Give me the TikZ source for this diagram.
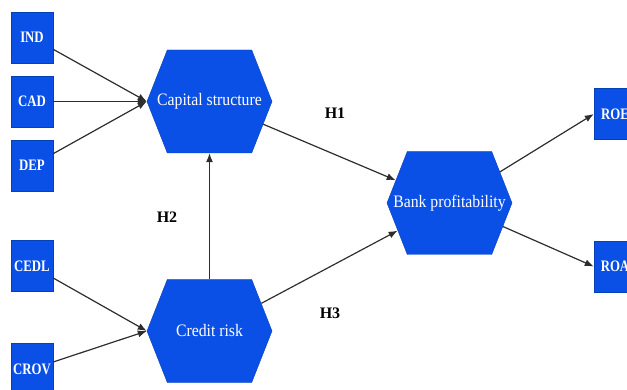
\documentclass[tikz,border=0pt]{standalone}
\usepackage{graphicx}
\usepackage{fontspec}
\setmainfont{Liberation Serif}
\usetikzlibrary{shapes.symbols,arrows.meta}
\definecolor{boxblue}{RGB}{10,80,230}
\definecolor{linegray}{RGB}{45,45,45}
% narrow labels, and labels that leave the hexagon size alone
\newcommand{\narrowlabel}[1]{\scalebox{0.8}[1]{#1}}
\newcommand{\hexlabel}[1]{\makebox[0pt]{\scalebox{0.9}[1]{#1}}}
\tikzset{
  indicator/.style={rectangle, fill=boxblue, draw=boxblue!80!black, line width=0.4pt,
    minimum width=42pt, minimum height=51pt, inner sep=0pt, text=white,
    font=\fontsize{16}{18}\selectfont\bfseries},
  construct/.style={signal, signal to=east and west, signal pointer angle=137,
    fill=boxblue, draw=boxblue!80!black, line width=0.4pt,
    minimum width=125pt, minimum height=103pt, inner sep=0pt, text=white,
    font=\fontsize{17.5}{19}\selectfont},
  link/.style={draw=linegray, line width=1.2pt, -{Latex[length=9pt,width=7pt]}},
  hyp/.style={font=\fontsize{16}{18}\selectfont\bfseries, text=black}
}
\begin{document}
\begin{tikzpicture}[x=1pt,y=-1pt]
  \useasboundingbox (0,0) rectangle (627,390);

  % measurement indicators
  \node[indicator] (ind)  at (32,37.5)  {\narrowlabel{IND}};
  \node[indicator] (cad)  at (32,101.5) {\narrowlabel{CAD}};
  \node[indicator] (dep)  at (32,165.5) {\narrowlabel{DEP}};
  \node[indicator] (cedl) at (32,266)   {\narrowlabel{CEDL}};
  \node[indicator] (crov) at (32,369)   {\narrowlabel{CROV}};
  \node[indicator] (roe)  at (615,114)  {\narrowlabel{ROE}};
  \node[indicator] (roa)  at (615,266.5){\narrowlabel{ROA}};

  % latent constructs
  \node[construct] (cs) at (209.5,101.5) {\hexlabel{Capital structure}};
  \node[construct] (cr) at (209.5,331)   {\hexlabel{Credit risk}};
  \node[construct] (bp) at (449.5,203)   {\hexlabel{Bank profitability}};

  % indicator paths
  \draw[link] (ind) -- (cs.west);
  \draw[link] (cad) -- (cs.west);
  \draw[link] (dep) -- (cs.west);
  \draw[link] (cedl) -- (cr.west);
  \draw[link] (crov) -- (cr.west);
  \draw[link] (bp) -- (roe.west);
  \draw[link] (bp) -- (roa.west);

  % structural paths
  \draw[link] (cr.north) -- (cs.south);
  \draw[link] (cs) -- (bp);
  \draw[link] (cr) -- (bp);

  % hypothesis labels
  \node[hyp] (h1) at (335,113) {H1};
  \node[hyp] (h2) at (167,217) {H2};
  \node[hyp] (h3) at (330,313) {H3};
\end{tikzpicture}
\end{document}
